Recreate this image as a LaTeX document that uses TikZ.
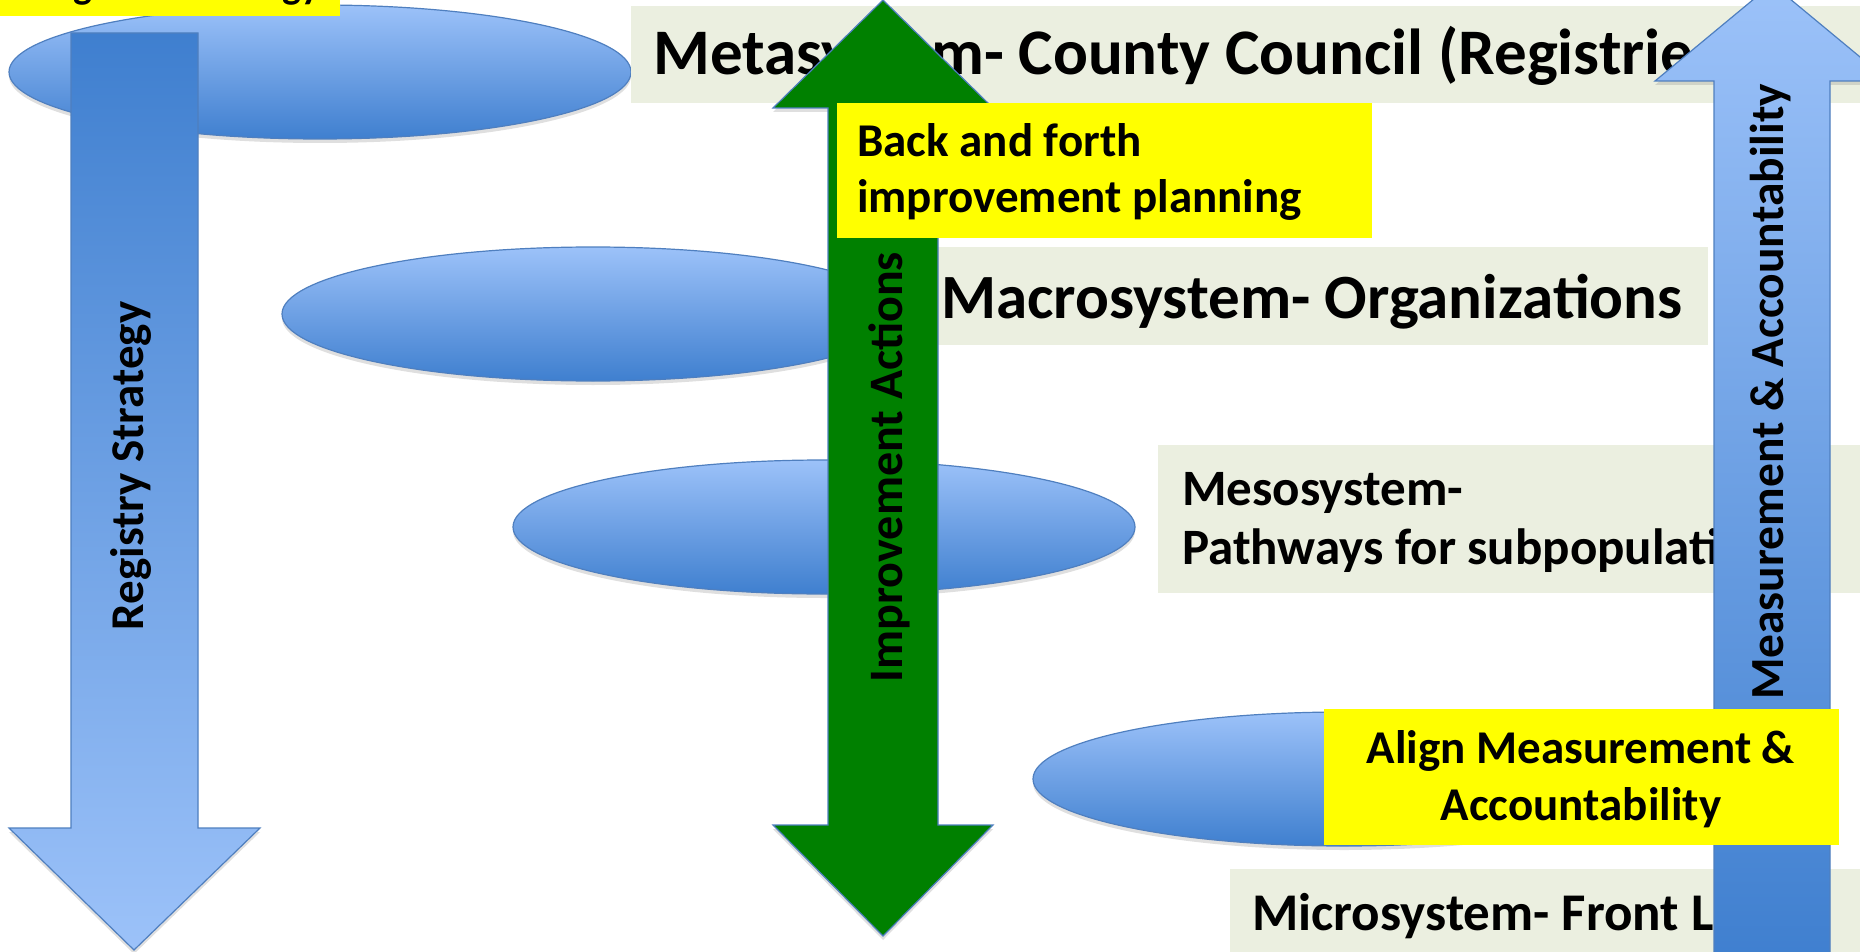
\documentclass[tikz,border=0pt]{standalone}
\usepackage{fontspec}
\setmainfont{Carlito}
\usetikzlibrary{shapes.geometric,shadows}
\definecolor{boxgreen}{HTML}{EBEFE0}
\definecolor{hiyellow}{HTML}{FFFF00}
\definecolor{arrowgreen}{HTML}{008000}
\definecolor{lightblue}{HTML}{9CC2F9}
\definecolor{darkblue}{HTML}{3F7FCF}
\definecolor{edgeblue}{HTML}{4F7FBF}
\tikzset{
	blob/.style={ellipse,draw=edgeblue,line width=1.2pt,top color=lightblue,bottom color=darkblue,
		minimum width=622pt,minimum height=134pt,inner sep=0pt,
		drop shadow={shadow xshift=0pt,shadow yshift=-4pt,opacity=.25}},
	greybox/.style={rectangle,fill=boxgreen,inner sep=0pt,anchor=north west},
	yelbox/.style={rectangle,fill=hiyellow,inner sep=0pt,anchor=north west},
	txt/.style={inner sep=0pt,text=black},
	shaft/.style={draw=edgeblue,line width=1.2pt,line join=miter,
		drop shadow={shadow xshift=0pt,shadow yshift=-4pt,opacity=.25}},
}
\newcommand{\fsize}[2]{\fontsize{#1}{#2}\selectfont\bfseries}
\begin{document}
\begin{tikzpicture}[x=1pt,y=-1pt]
	\useasboundingbox (0,0) rectangle (1860,952);
	% levels
	\node[blob] (meta) at (320,72) {};
	\node[blob] (macro) at (593,314) {};
	\node[blob] (meso) at (824,527) {};
	\node[blob] (micro) at (1344,779) {};
	\node[greybox,minimum width=1229pt,minimum height=97pt] (metabox) at (631,6) {};
	\node[greybox,minimum width=770pt,minimum height=98pt] (macrobox) at (938,247) {};
	\node[greybox,minimum width=702pt,minimum height=148pt] (mesobox) at (1158,445) {};
	\node[greybox,minimum width=630pt,minimum height=90pt] (microbox) at (1230,869) {};
	\node[txt,anchor=base west,font=\fsize{65}{78}] (metatxt) at (653,75) {Metasystem- County Council (Registries)};
	\node[txt,anchor=base west,font=\fsize{63}{76}] (macrotxt) at (941,318) {Macrosystem- Organizations};
	\node[txt,anchor=base west,align=left,font=\fsize{51}{59}] (mesotxt) at (1182,564) {Mesosystem-\\Pathways for subpopulations};
	\node[txt,anchor=base west,font=\fsize{53}{63}] (microtxt) at (1252,930) {Microsystem- Front Line};
	\node[yelbox,minimum width=340pt,minimum height=21pt] (stratbox) at (0,-5) {};
	\node[txt,anchor=base west,font=\fsize{40}{48}] (strattxt) at (31,-1) {Regional Strategy};
	% arrows
	\shade[shaft,top color=darkblue,bottom color=lightblue] (71,33) -- (198,33) -- (198,828) -- (260,828)
		-- (134,950) -- (9,828) -- (71,828) -- cycle;
	\fill[shaft,fill=arrowgreen] (883,0) -- (993,108) -- (938,108) -- (938,825) -- (993,825) -- (883,936)
		-- (773,825) -- (828,825) -- (828,108) -- (773,108) -- cycle;
	\shade[shaft,top color=lightblue,bottom color=darkblue] (1772,-16) -- (1889,81) -- (1830,81) -- (1830,962)
		-- (1714,962) -- (1714,81) -- (1655,81) -- cycle;
	\node[txt,rotate=90,anchor=base,font=\fsize{47}{56}] (regtxt) at (143,466) {Registry Strategy};
	\node[txt,rotate=90,anchor=base,font=\fsize{48}{58}] (imptxt) at (902,467) {Improvement Actions};
	\node[txt,rotate=90,anchor=base,font=\fsize{47.5}{57}] (meastxt) at (1783,392) {Measurement \& Accountability};
	% callouts
	\node[yelbox,minimum width=535pt,minimum height=135pt] (backbox) at (837,103) {};
	\node[txt,anchor=base west,align=left,font=\fsize{47}{56}] (backtxt) at (857,213) {Back and forth\\improvement planning};
	\node[yelbox,minimum width=515pt,minimum height=136pt] (alignbox) at (1324,709) {};
	\node[txt,anchor=base,align=center,font=\fsize{47}{57}] (aligntxt) at (1581,820) {Align Measurement \&\\Accountability};
\end{tikzpicture}
\end{document}
